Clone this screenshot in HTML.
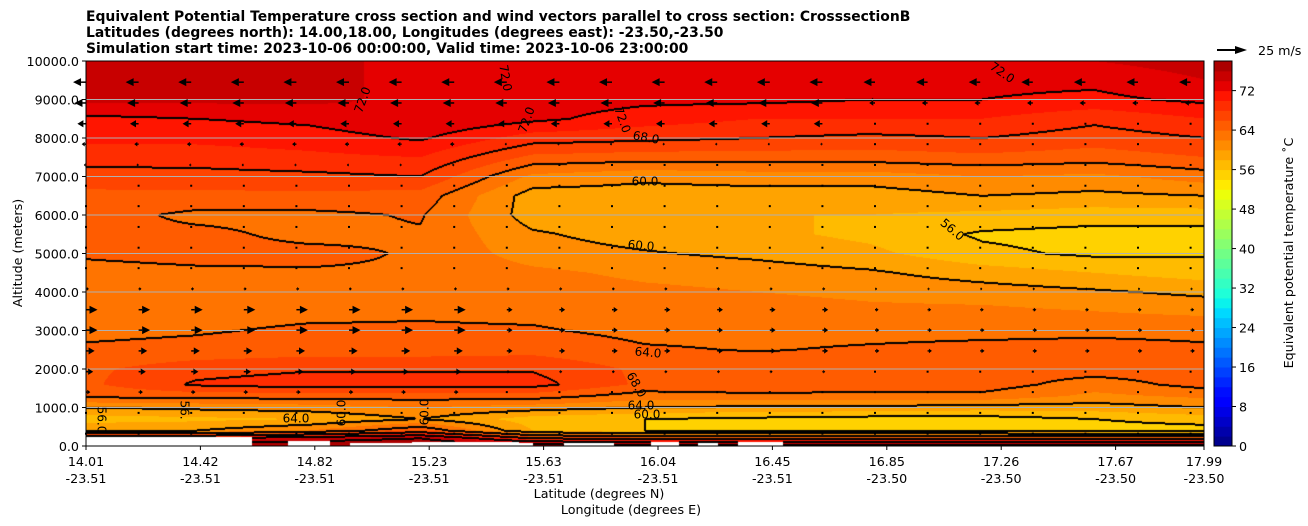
<!DOCTYPE html>
<html><head><meta charset="utf-8">
<style>
html,body{margin:0;padding:0;background:#fff;}
body{width:1308px;height:526px;position:relative;overflow:hidden;font-family:"DejaVu Sans","Liberation Sans",sans-serif;}
#field{position:absolute;left:86px;top:61px;}
#ov{position:absolute;left:0;top:0;font-family:"DejaVu Sans","Liberation Sans",sans-serif;}
</style></head>
<body>
<canvas id="field" width="1118" height="385"></canvas>
<svg id="ov" width="1308" height="526" xmlns="http://www.w3.org/2000/svg">
<g font-weight="bold" font-size="13.9" fill="#000">
<text x="86" y="21">Equivalent Potential Temperature cross section and wind vectors parallel to cross section: CrosssectionB</text>
<text x="86" y="37">Latitudes (degrees north): 14.00,18.00, Longitudes (degrees east): -23.50,-23.50</text>
<text x="86" y="53">Simulation start time: 2023-10-06 00:00:00, Valid time: 2023-10-06 23:00:00</text>
</g>
<g id="grid"></g>
<g id="winds"></g>
<g id="clabels" font-size="12" fill="#000"></g>
<rect x="86" y="61" width="1118" height="385" fill="none" stroke="#000" stroke-width="1"/>
<g id="yaxis" font-size="12.7"></g>
<g id="xaxis" font-size="12.7"></g>
<text x="22" y="253" font-size="12.7" text-anchor="middle" transform="rotate(-90 22 253)">Altitude (meters)</text>
<text x="599" y="498" font-size="12.7" text-anchor="middle">Latitude (degrees N)</text>
<text x="631" y="514" font-size="12.7" text-anchor="middle">Longitude (degrees E)</text>
<g>
<line x1="1217" y1="50" x2="1238" y2="50" stroke="#000" stroke-width="2"/>
<polygon points="1235,46 1247,50 1235,54" fill="#000"/>
<text x="1258" y="55" font-size="12.7">25 m/s</text>
</g>
<g id="cbar"></g>
<text x="1293" y="253" font-size="12.7" text-anchor="middle" transform="rotate(-90 1293 253)">Equivalent potential temperature ˚C</text>
</svg>
<script>
// ---- data ----
const gridLats = [14.0,14.4,14.8,15.2,15.6,16.0,16.4,16.8,17.2,17.6,18.0];
const gridAlts = [10000,9500,9000,8500,8000,7500,7000,6500,6000,5500,5000,4500,4000,3500,3000,2500,2000,1600,1300,1000,700,400,200,0];
const col0 = [75,75,74.5,71.5,70.5,69,67,65.5,65,64.5,64.2,63.5,63,63,63.5,64.3,65.5,65.5,64.5,60,57,60,72,78];
const col1 = [75,75,74.5,72,70.5,69,67.2,65.5,63.5,64.5,64.5,63.7,63.2,63.2,63.8,64.6,67.2,68.3,64.8,60.5,57.5,60,72,78];
const col2 = [75,75,74.5,72.5,71,69.5,67.5,65.5,63.5,63.5,64.5,63.8,63.4,63.5,64.3,65,67.8,69,65,61,58,62,74,79];
const col3 = [73,73,73.5,74,72.3,70,68,65.2,64.2,63.8,63.8,63.8,63.6,63.7,64.3,65,67.8,69,65,62,60,66,76,80];
const col4 = [73,73,73,72.5,69,65.5,61.5,59,59,60.3,61,62.5,63.2,63.5,64.2,65.3,67.8,68.8,65,61,57,58,68,78];
const col5 = [73,73,72.5,71,68.5,65,60.5,59,58.5,59,60.2,61.5,62.5,63,63.5,64.2,65.5,65.5,63,60,56,56,67,78];
const col6 = [73,73,72.5,70,68,65,61,59,58,58.5,59.5,61,62,63,63.5,63.9,65,65.5,63.5,59.5,55.5,56,67,78];
const col7 = [73,72.8,72,70,67.5,65,61,59,58,57.5,58.5,60.3,61.5,62.5,63.5,64.2,65,65.3,63.3,59.5,55,56,67,78];
const col8 = [72.5,72.5,72,70,68,65.5,62,60,57.5,55.7,56.5,59,61,62.5,63.5,64.5,65,65,63.5,59,55,56,67,78];
const col9 = [74,72.5,71.5,68.5,67,65,61.5,59.5,57,55.2,55.6,58,60.3,62,63.5,64.8,65,63,61.5,59,56,55,67,78];
const col10 = [75,74,72.5,70,68,66,63,60,57,55.3,55.8,57,59.5,61.5,63.5,64.3,65,64.8,62.5,60,57,55,67,78];
const columns = [col0,col1,col2,col3,col4,col5,col6,col7,col8,col9,col10];
// terrain (white) patches
const terrainLat0 = [14.01,14.73,14.95,15.17,15.55,15.71,16.02,16.19,16.33];
const terrainLat1 = [14.60,14.88,15.17,15.55,15.60,15.89,16.12,16.26,16.49];
const terrainH = [230,120,90,110,90,70,100,90,100];
// wind
const windAlts = [9450,8910,8370,7840,7300,6760,6230,5690,5150,4620,4080,3540,3010,2470,1930,1400,860,320];
const windU_left = [-9,-8,-6,-3,-1.5,0,0,0,0,0,2,8,8,6,5,3,0,0];
const windU_mid = [-9,-8,-6,-1.5,-0.5,0,0,0,0,0,2,4,4,4,2,1,0,0];
const windU_right = [-8,-4,-1,0,0,0,0,0,0,0,1.5,2.5,3,3,1,0.5,0,0];
// axis ticks
const yTicks = [0,1000,2000,3000,4000,5000,6000,7000,8000,9000,10000];
const xTickLat = ["14.01","14.42","14.82","15.23","15.63","16.04","16.45","16.85","17.26","17.67","17.99"];
const xTickLon = ["-23.51","-23.51","-23.51","-23.51","-23.51","-23.51","-23.51","-23.50","-23.50","-23.50","-23.50"];
const cbarTicks = [0,8,16,24,32,40,48,56,64,72];

// ---- scales ----
const PX=86, PY=61, PW=1118, PH=385, VMAX=78, CNORM=80;
const LAT0=14.01, LAT1=17.99;
function xOfLat(l){return PX+(l-LAT0)/(LAT1-LAT0)*PW;}
function yOfAlt(a){return PY+PH-a/10000*PH;}
function jet(t){
  t=Math.max(0,Math.min(1,t));
  function seg(pts){for(let i=1;i<pts.length;i++){if(t<=pts[i][0]){const a=pts[i-1],b=pts[i];return a[1]+(b[1]-a[1])*(t-a[0])/(b[0]-a[0]);}}return pts[pts.length-1][1];}
  const r=seg([[0,0],[0.35,0],[0.66,1],[0.89,1],[1,0.5]]);
  const g=seg([[0,0],[0.125,0],[0.375,1],[0.64,1],[0.91,0],[1,0]]);
  const b=seg([[0,0.5],[0.11,1],[0.34,1],[0.65,0],[1,0]]);
  return [Math.round(r*255),Math.round(g*255),Math.round(b*255)];
}
function levelColor(v){const lv=Math.max(0,Math.min(VMAX-2,Math.floor(v/2)*2));return jet((lv+1)/CNORM);}
function valueAt(lat,alt){
  let i=0;while(i<gridLats.length-2&&lat>gridLats[i+1])i++;
  let fx=(lat-gridLats[i])/(gridLats[i+1]-gridLats[i]);fx=Math.max(0,Math.min(1,fx));
  let j=0;while(j<gridAlts.length-2&&alt<gridAlts[j+1])j++;
  let fy=(gridAlts[j]-alt)/(gridAlts[j]-gridAlts[j+1]);fy=Math.max(0,Math.min(1,fy));
  const a=columns[i][j],b=columns[i+1][j],c=columns[i][j+1],d=columns[i+1][j+1];
  return (a*(1-fx)+b*fx)*(1-fy)+(c*(1-fx)+d*fx)*fy;
}
function terrainAt(lat){for(let k=0;k<terrainLat0.length;k++){if(lat>=terrainLat0[k]&&lat<=terrainLat1[k])return terrainH[k];}return 0;}

// ---- filled field + contour lines ----
const cv=document.getElementById('field');const ctx=cv.getContext('2d');
const img=ctx.createImageData(PW,PH);const band=new Int16Array(PW*PH);const mask=new Uint8Array(PW*PH);
for(let py=0;py<PH;py++){const alt=(PH-py-0.5)/PH*10000;
  for(let px=0;px<PW;px++){const lat=LAT0+(px+0.5)/PW*(LAT1-LAT0);
    const v=valueAt(lat,alt);const k=py*PW+px;band[k]=Math.floor(v/4);
    if(alt<terrainAt(lat))mask[k]=1;
    const c=mask[k]?[255,255,255]:levelColor(v);
    img.data[k*4]=c[0];img.data[k*4+1]=c[1];img.data[k*4+2]=c[2];img.data[k*4+3]=255;}}
for(let py=0;py<PH;py++){for(let px=0;px<PW;px++){const k=py*PW+px;if(mask[k])continue;
  let edge=false;
  if(px+1<PW&&!mask[k+1]&&band[k+1]!==band[k])edge=true;
  if(px>0&&!mask[k-1]&&band[k-1]!==band[k])edge=true;
  if(py+1<PH&&!mask[k+PW]&&band[k+PW]!==band[k])edge=true;
  if(py>0&&!mask[k-PW]&&band[k-PW]!==band[k])edge=true;
  if(edge){img.data[k*4]=0;img.data[k*4+1]=0;img.data[k*4+2]=0;}}}
ctx.putImageData(img,0,0);

const NS='http://www.w3.org/2000/svg';
function mk(tag,attrs,parent){const e=document.createElementNS(NS,tag);for(const a in attrs)e.setAttribute(a,attrs[a]);parent.appendChild(e);return e;}

// gridlines
const gG=document.getElementById('grid');
for(const t of yTicks){if(t===0||t===10000)continue;const y=yOfAlt(t);
  const l=mk('line',{x1:PX,x2:PX+PW,y1:y,y2:y,stroke:'#b0b0b0','stroke-width':1},gG);
  
  }

// winds
const gW=document.getElementById('winds');
for(let r=0;r<windAlts.length;r++){const y=yOfAlt(windAlts[r]);
  for(let c=0;c<22;c++){const x=PX+c*52.6;
    const u=c<8?windU_left[r]:(c<15?windU_mid[r]:windU_right[r]);
    const len=u*30/25*1.2;
    const g=mk('g',{},gW);
    
    
    if(Math.abs(len)<2){mk('rect',{x:x-1,y:y-1,width:2,height:2,fill:'#000'},g);continue;}
    const s=Math.sign(len),L=Math.abs(len),h=Math.min(8,L*0.7),w=Math.min(4,1+L*0.3);
    mk('line',{x1:x,y1:y,x2:x+s*(L-h),y2:y,stroke:'#000','stroke-width':1.5},g);
    mk('polygon',{points:`${x+s*(L-h)},${y-w} ${x+s*L},${y} ${x+s*(L-h)},${y+w}`,fill:'#000'},g);}}

// contour labels
const gL=document.getElementById('clabels');
const labels=[["72.0",363,100,-70],["72.0",505,78,80],["72.0",527,120,-70],["72.0",622,120,70],["68.0",646,138,10],["60.0",645,182,0],["60.0",641,246,5],["72.0",1002,73,35],["56.0",952,230,40],["64.0",648,353,5],["68.0",636,385,60],["64.0",641,406,0],["60.0",647,415,0],["64.0",296,419,0],["56.0",101,420,90],["56.",184,410,90],["60.0",342,413,-90],["60.0",425,412,-90]];
for(const L of labels){const t=mk('text',{x:L[1],y:L[2],'text-anchor':'middle','dominant-baseline':'middle',transform:`rotate(${L[3]} ${L[1]} ${L[2]})`},gL);t.textContent=L[0];
  
  }

// y axis
const gY=document.getElementById('yaxis');
for(const t of yTicks){const y=yOfAlt(t);
  mk('line',{x1:PX-4,x2:PX,y1:y,y2:y,stroke:'#000'},gY);
  const tx=mk('text',{x:PX-7,y:y+5,'text-anchor':'end'},gY);tx.textContent=t.toFixed(1);
  
  }
// x axis
const gX=document.getElementById('xaxis');
for(let i=0;i<xTickLat.length;i++){const x=i<10?PX+i*114.4:PX+PW;
  mk('line',{x1:x,x2:x,y1:PY+PH,y2:PY+PH+4,stroke:'#000'},gX);
  const a=mk('text',{x:x,y:466,'text-anchor':'middle'},gX);a.textContent=xTickLat[i];
  
  
  const b=mk('text',{x:x,y:483,'text-anchor':'middle'},gX);b.textContent=xTickLon[i];
  
  }
// colorbar
const gC=document.getElementById('cbar');const CX=1214,CW=18;
function yOfC(v){return PY+PH-v/VMAX*PH;}
for(let v=0;v<VMAX;v+=2){const c=jet((v+1)/CNORM);
  const r=mk('rect',{x:CX,y:yOfC(v+2),width:CW,height:yOfC(v)-yOfC(v+2)+0.5,fill:`rgb(${c[0]},${c[1]},${c[2]})`},gC);
  
  }
mk('rect',{x:CX,y:PY,width:CW,height:PH,fill:'none',stroke:'#000'},gC);
for(const t of cbarTicks){const y=yOfC(t);
  mk('line',{x1:CX+CW,x2:CX+CW+4,y1:y,y2:y,stroke:'#000'},gC);
  const tx=mk('text',{x:CX+CW+7,y:y+5,'font-size':12.7},gC);tx.textContent=t;
  
  }
</script>
</body></html>
